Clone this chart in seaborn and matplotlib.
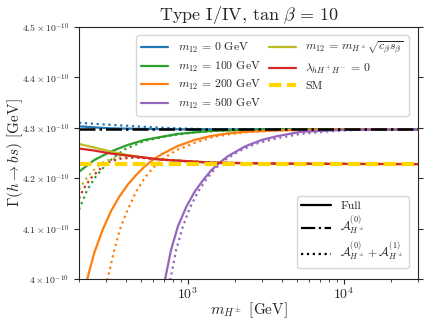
import numpy as np
import pandas as pd
import matplotlib
matplotlib.use("Agg")
import matplotlib.pyplot as plt
from matplotlib.lines import Line2D
from matplotlib.ticker import FixedLocator, FixedFormatter, LogLocator, NullFormatter
import seaborn as sns

# values, widths in units of 1e-10 GeV
SCALE = 1e-10

blue_mh = [200, 250, 320, 500, 1000, 2000, 30000]
blue_full = [4.303, 4.301, 4.299, 4.298, 4.297, 4.297, 4.297]
blue_dot_mh = [200, 320, 526, 862, 1400, 3000, 30000]
blue_dot = [4.310, 4.306, 4.302, 4.299, 4.297, 4.297, 4.297]

green_mh = [200, 250, 320, 410, 526, 673, 862, 1104, 1414, 2322, 5000, 30000]
green_full = [4.213, 4.236, 4.253, 4.266, 4.276, 4.282, 4.288, 4.291, 4.294, 4.296, 4.297, 4.297]
green_dot_mh = [200, 226, 256, 290, 328, 390, 526, 743, 1104, 1811, 5000, 30000]
green_dot = [4.138, 4.177, 4.203, 4.223, 4.239, 4.257, 4.274, 4.284, 4.291, 4.295, 4.297, 4.297]

orange_mh = [200, 226, 250, 283, 320, 362, 410, 464, 526, 594, 673, 862, 1104,
             1414, 1811, 2322, 3808, 10000, 30000]
orange_full = [3.93, 4.000, 4.051, 4.097, 4.134, 4.163, 4.187, 4.206, 4.223, 4.236, 4.247,
               4.264, 4.276, 4.284, 4.289, 4.292, 4.295, 4.297, 4.297]
orange_dot_mh = [280, 305, 337, 371, 410, 464, 526, 594, 673, 762, 862, 1104, 1414, 1811,
                 2322, 3808, 10000, 30000]
orange_dot = [3.94, 4.000, 4.058, 4.104, 4.137, 4.173, 4.200, 4.220, 4.236, 4.247, 4.257,
              4.270, 4.281, 4.287, 4.291, 4.295, 4.297, 4.297]

purple_mh = [660, 714, 780, 862, 975, 1104, 1249, 1414, 1600, 1811, 2322, 2974, 3808,
             5285, 7110, 10000, 30000]
purple_full = [3.93, 4.000, 4.058, 4.104, 4.143, 4.173, 4.196, 4.216, 4.231, 4.244, 4.263,
               4.276, 4.284, 4.292, 4.294, 4.296, 4.297]
purple_dot_mh = [715, 773, 841, 929, 1025, 1160, 1313, 1486, 1725, 2103, 2694, 3808, 5285,
                 8000, 12000, 30000]
purple_dot = [3.94, 4.000, 4.058, 4.104, 4.140, 4.173, 4.198, 4.218, 4.236, 4.253, 4.268,
              4.280, 4.288, 4.293, 4.296, 4.297]

olive_mh = [200, 250, 320, 410, 526, 673, 862, 1104, 1414, 2322, 3808, 30000]
olive_full = [4.268, 4.261, 4.253, 4.246, 4.241, 4.237, 4.235, 4.233, 4.231, 4.230, 4.229, 4.228]
olive_dot_mh = [200, 215, 238, 262, 290, 320, 371, 453, 526, 673, 862, 1104, 1414, 2322,
                3808, 30000]
olive_dot = [4.178, 4.193, 4.210, 4.223, 4.233, 4.238, 4.242, 4.243, 4.241, 4.237, 4.235,
             4.233, 4.231, 4.230, 4.229, 4.228]

red_mh = [200, 250, 320, 410, 526, 673, 862, 1104, 1414, 2322, 3808, 30000]
red_full = [4.259, 4.255, 4.249, 4.245, 4.241, 4.237, 4.235, 4.233, 4.231, 4.230, 4.229, 4.228]
red_dot_mh = [200, 215, 238, 262, 290, 320, 371, 453, 526, 673, 862, 1104, 1414, 2322,
              3808, 30000]
red_dot = [4.160, 4.180, 4.200, 4.213, 4.226, 4.234, 4.239, 4.241, 4.240, 4.237, 4.235,
           4.233, 4.231, 4.230, 4.229, 4.228]

lo_mh = [200, 30000]
lo_value = [4.297, 4.297]
sm_value = [4.228, 4.228]

y_ticks = [4.0, 4.1, 4.2, 4.3, 4.4, 4.5]
y_tick_labels = [r"$4\times10^{-10}$", r"$4.1\times10^{-10}$", r"$4.2\times10^{-10}$",
                 r"$4.3\times10^{-10}$", r"$4.4\times10^{-10}$", r"$4.5\times10^{-10}$"]


def frame(mh, vals):
    return pd.DataFrame({"mh": mh, "width": np.array(vals) * SCALE})


sns.set_style("ticks")
plt.rcParams["font.family"] = "serif"
plt.rcParams["font.serif"] = ["cmr10", "DejaVu Serif"]
plt.rcParams["mathtext.fontset"] = "cm"
plt.rcParams["axes.formatter.use_mathtext"] = True
plt.rcParams["axes.unicode_minus"] = False

fig = plt.figure(figsize=(4.28, 3.26), dpi=100)
ax = fig.add_axes([0.1846, 0.144, 0.792, 0.773])

series = [
    ("tab:blue", blue_mh, blue_full, blue_dot_mh, blue_dot, r"$m_{12}\,=\,0$ GeV"),
    ("tab:green", green_mh, green_full, green_dot_mh, green_dot, r"$m_{12}\,=\,100$ GeV"),
    ("tab:orange", orange_mh, orange_full, orange_dot_mh, orange_dot, r"$m_{12}\,=\,200$ GeV"),
    ("tab:purple", purple_mh, purple_full, purple_dot_mh, purple_dot, r"$m_{12}\,=\,500$ GeV"),
    ("tab:olive", olive_mh, olive_full, olive_dot_mh, olive_dot,
     r"$m_{12}\,=\,m_{H^\pm}\sqrt{c_\beta s_\beta}$"),
    ("tab:red", red_mh, red_full, red_dot_mh, red_dot, r"$\lambda_{hH^+H^-}\,=\,0$"),
]

handles = []
for color, mh, full, dmh, dot, label in series:
    sns.lineplot(data=frame(mh, full), x="mh", y="width", color=color, lw=1.6,
                 estimator=None, ax=ax)
    sns.lineplot(data=frame(dmh, dot), x="mh", y="width", color=color, lw=1.6,
                 linestyle=":", estimator=None, ax=ax)
    handles.append(Line2D([], [], color=color, lw=1.6, label=label))

sns.lineplot(data=frame(lo_mh, lo_value), x="mh", y="width", color="black", lw=1.8,
             linestyle="-.", estimator=None, ax=ax)
sns.lineplot(data=frame(lo_mh, sm_value), x="mh", y="width", color="gold", lw=3,
             linestyle=(0, (3, 1.3)), estimator=None, ax=ax)
handles.append(Line2D([], [], color="gold", lw=3, linestyle=(0, (3, 1.3)), label="SM"))

ax.set_xscale("log")
ax.set_xlim(200, 3e4)
ax.set_ylim(4.0 * SCALE, 4.5 * SCALE)
ax.yaxis.set_major_locator(FixedLocator([v * SCALE for v in y_ticks]))
ax.yaxis.set_major_formatter(FixedFormatter(y_tick_labels))
ax.tick_params(axis="y", labelsize=7, right=True)
ax.tick_params(axis="x", labelsize=10, pad=2)
ax.xaxis.set_minor_locator(LogLocator(subs=np.arange(2, 10)))
ax.xaxis.set_minor_formatter(NullFormatter())

ax.set_xlabel(r"$m_{H^\pm}$ [GeV]", fontsize=11)
ax.set_ylabel(r"$\Gamma(h\to bs)$ [GeV]", fontsize=11)
ax.xaxis.set_label_coords(0.5, -0.085)
ax.yaxis.set_label_coords(-0.16, 0.5)
ax.set_title(r"Type I/IV, $\tan\,\beta\,=\,10$", fontsize=13, pad=5)

leg1 = ax.legend(handles=handles, ncol=2, loc="upper right", fontsize=8.5,
                 bbox_to_anchor=(0.99, 0.99), columnspacing=0.7, handlelength=2.3,
                 labelspacing=0.4, handletextpad=0.8)
ax.add_artist(leg1)
style_handles = [
    Line2D([], [], color="black", lw=1.6, label="Full"),
    Line2D([], [], color="black", lw=1.6, linestyle="-.", label=r"$\mathcal{A}^{(0)}_{H^\pm}$"),
    Line2D([], [], color="black", lw=1.6, linestyle=":",
           label=r"$\mathcal{A}^{(0)}_{H^\pm} + \mathcal{A}^{(1)}_{H^\pm}$"),
]
ax.legend(handles=style_handles, loc="lower right", fontsize=8.5, handlelength=2.5,
          labelspacing=0.25, bbox_to_anchor=(0.99, 0.02))

fig.savefig("out.png", dpi=100)
